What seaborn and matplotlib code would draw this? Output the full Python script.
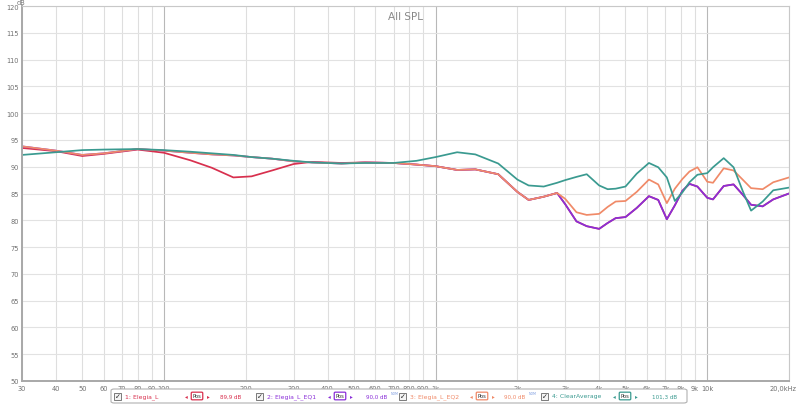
import numpy as np
import pandas as pd
import matplotlib
matplotlib.use("Agg")
import matplotlib.pyplot as plt
import matplotlib.transforms as mtransforms
import seaborn as sns
from matplotlib.patches import FancyBboxPatch, Rectangle

# ---------------- data ----------------
freq = [30, 40, 50, 60, 80, 100, 125, 150, 180, 210, 250, 300, 350, 450, 550, 700,
        850, 1000, 1200, 1400, 1700, 2000, 2200, 2500, 2800, 3000, 3300, 3600, 4000,
        4300, 4600, 5000, 5500, 6100, 6600, 7100, 7600, 8100, 8600, 9200, 10000,
        10500, 11500, 12500, 13500, 14500, 16000, 17500, 20000]

elegia_l = [93.5, 92.9, 92.0, 92.4, 93.2, 92.6, 91.2, 89.8, 88.0, 88.2, 89.3, 90.5,
            90.9, 90.7, 90.8, 90.7, 90.4, 90.1, 89.4, 89.5, 88.6, 85.3, 83.8, 84.4,
            85.1, 83.0, 79.8, 78.9, 78.4, 79.5, 80.4, 80.6, 82.3, 84.5, 83.8, 80.2,
            82.8, 85.5, 86.8, 86.3, 84.2, 83.9, 86.4, 86.7, 84.8, 82.9, 82.6, 83.9, 85.0]

elegia_l_eq1 = [93.8, 93.0, 92.2, 92.5, 93.3, 93.0, 92.6, 92.3, 92.1, 91.8, 91.5, 91.0,
                90.8, 90.6, 90.8, 90.7, 90.4, 90.1, 89.4, 89.5, 88.6, 85.3, 83.8, 84.4,
                85.1, 83.0, 79.8, 78.9, 78.4, 79.5, 80.4, 80.6, 82.3, 84.5, 83.8, 80.2,
                82.8, 85.5, 86.8, 86.3, 84.2, 83.9, 86.4, 86.7, 84.8, 82.9, 82.6, 83.9, 85.0]

elegia_l_eq2 = [93.8, 93.0, 92.2, 92.5, 93.3, 93.0, 92.6, 92.3, 92.1, 91.8, 91.5, 91.0,
                90.8, 90.6, 90.8, 90.7, 90.4, 90.1, 89.4, 89.5, 88.6, 85.3, 83.8, 84.4,
                85.1, 84.0, 81.5, 81.0, 81.2, 82.5, 83.5, 83.6, 85.3, 87.6, 86.7, 83.2,
                85.9, 87.7, 89.1, 89.9, 87.2, 87.0, 89.7, 89.3, 87.6, 86.0, 85.8, 87.1, 88.0]

clear_average = [92.2, 92.7, 93.1, 93.2, 93.3, 93.1, 92.8, 92.5, 92.2, 91.8, 91.5, 91.1,
                 90.8, 90.6, 90.7, 90.7, 91.1, 91.8, 92.7, 92.3, 90.6, 87.6, 86.5, 86.3,
                 87.0, 87.5, 88.1, 88.6, 86.5, 85.8, 85.9, 86.3, 88.7, 90.7, 89.9, 88.0,
                 83.6, 85.2, 87.1, 88.5, 88.8, 89.9, 91.6, 89.9, 85.5, 81.8, 83.5, 85.6, 86.1]

series_names = ["1: Elegia_L", "2: Elegia_L_EQ1", "3: Elegia_L_EQ2", "4: ClearAverage"]
series_levels = ["89,9 dB", "90,0 dB", "90,0 dB", "101,3 dB"]
series_colors = ["#d8304e", "#8a2fd8", "#f08a68", "#3a9a90"]

x_ticks = [30, 40, 50, 60, 70, 80, 90, 100, 200, 300, 400, 500, 600, 700, 800, 900,
           1000, 2000, 3000, 4000, 5000, 6000, 7000, 8000, 9000, 10000, 20000]
x_tick_labels = ["30", "40", "50", "60", "70", "80", "90", "100", "200", "300", "400",
                 "500", "600", "700", "800", "900", "1k", "2k", "3k", "4k", "5k", "6k",
                 "7k", "8k", "9k", "10k", "20,0kHz"]
y_ticks = list(range(50, 121, 5))

# ---------------- build frame ----------------
frames = []
for name, vals in zip(series_names, [elegia_l, elegia_l_eq1, elegia_l_eq2, clear_average]):
    frames.append(pd.DataFrame({"freq": freq, "spl": vals, "series": name}))
df = pd.concat(frames, ignore_index=True)

sns.set_theme(style="white")
plt.rcParams["font.family"] = ["DejaVu Sans"]

fig = plt.figure(figsize=(8.0, 4.06), dpi=100)
ax = fig.add_axes([22 / 800, (406 - 382) / 406, (789 - 22) / 800, (382 - 7) / 406])

sns.lineplot(data=df, x="freq", y="spl", hue="series", hue_order=series_names,
             palette=dict(zip(series_names, series_colors)), sort=False,
             estimator=None, linewidth=1.25, legend=False, ax=ax)

ax.set_xscale("log")
ax.set_xlim(30, 20000)
ax.set_ylim(50, 120)
ax.set_xlabel("")
ax.set_ylabel("")
ax.minorticks_off()
ax.set_xticks(x_ticks)
ax.set_xticklabels(x_tick_labels)
ax.set_yticks(y_ticks)
ax.set_yticklabels([str(v) for v in y_ticks])
ax.tick_params(axis="both", length=0, labelsize=4.8, labelcolor="#707070", pad=2)
ax.tick_params(axis="x", pad=3)

# push the last x label a bit to the right like the reference
last = ax.get_xticklabels()[-1]
last.set_horizontalalignment("right")
last.set_transform(last.get_transform() + mtransforms.ScaledTranslation(8 / 100, 0, fig.dpi_scale_trans))

# grid
for xv in x_ticks:
    c = "#b8b8b8" if xv in (100, 1000, 10000) else "#dedede"
    ax.axvline(xv, color=c, linewidth=0.8, zorder=0)
for yv in y_ticks:
    ax.axhline(yv, color="#e2e2e2", linewidth=0.8, zorder=0)

for side, sp in ax.spines.items():
    sp.set_color("#c8c8c8")
    sp.set_linewidth(0.8)
ax.spines["left"].set_color("#a8a8a8")
ax.spines["left"].set_linewidth(1.4)
ax.spines["bottom"].set_color("#a8a8a8")
ax.spines["bottom"].set_linewidth(1.4)

ax.set_title("All SPL", fontsize=7.5, color="#888888", y=0.965, pad=0)
fig.text(17 / 800, 1 - 3 / 406, "dB", fontsize=4.8, color="#707070", ha="left", va="center")

# ---------------- legend strip ----------------
def fx(px):
    return px / 800

def fy(py):
    return 1 - py / 406

box = FancyBboxPatch((fx(111), fy(404)), fx(687) - fx(111), fy(390) - fy(404),
                     boxstyle="round,pad=0,rounding_size=0.004",
                     transform=fig.transFigure, facecolor="white",
                     edgecolor="#b0b0b0", linewidth=0.8)
fig.patches.append(box)

cb_x = [117, 259, 402, 544]
badge_x = [197, 340, 482, 625]
level_x = [220, 366, 504, 652]
ymid = 397
for i in range(4):
    col = series_colors[i]
    # checkbox
    fig.patches.append(Rectangle((fx(cb_x[i] - 3), fy(ymid + 3.5)), fx(7), 7 / 406,
                                 transform=fig.transFigure, facecolor="#f4f4f4",
                                 edgecolor="#666666", linewidth=0.6))
    fig.text(fx(cb_x[i] + 0.5), fy(ymid), "✓", fontsize=5, color="#222222",
             ha="center", va="center")
    fig.text(fx(cb_x[i] + 8), fy(ymid), series_names[i], fontsize=4.4, color=col,
             ha="left", va="center")
    # badge
    fig.text(fx(badge_x[i]), fy(ymid), "Pos", fontsize=3.8, color="#333333",
             ha="center", va="center",
             bbox=dict(boxstyle="round,pad=0.25,rounding_size=0.2", facecolor="white",
                       edgecolor=col, linewidth=0.9))
    fig.text(fx(badge_x[i] - 11), fy(ymid), "◂", fontsize=4, color=col, ha="center", va="center")
    fig.text(fx(badge_x[i] + 11), fy(ymid), "▸", fontsize=4, color=col, ha="center", va="center")
    fig.text(fx(level_x[i]), fy(ymid), series_levels[i], fontsize=4.1, color=col,
             ha="left", va="center")
    if i in (1, 2):
        fig.text(fx(level_x[i] + 24.5), fy(ymid - 2.5), "NOM", fontsize=2.3, color="#7a9ae0",
                 ha="left", va="center")

fig.savefig("out.png", dpi=100, facecolor="white")
